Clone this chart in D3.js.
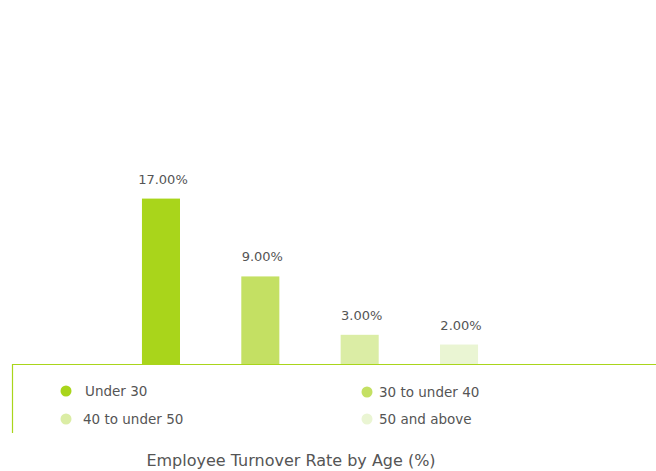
<!DOCTYPE html>
<html><head><meta charset="utf-8">
<script src="https://cdn.jsdelivr.net/npm/d3@7"></script>
<style>body{margin:0;background:#fff;}svg{display:block;font-family:"DejaVu Sans",sans-serif;}</style>
</head><body>
<svg id="c" width="656" height="471"></svg>
<script>
const categories = ["Under 30", "30 to under 40", "40 to under 50", "50 and above"];
const values = [17, 9, 3, 2];
const valueLabels = ["17.00%", "9.00%", "3.00%", "2.00%"];
const colors = ["#a9d51b", "#c4e063", "#dbeda5", "#eaf5d3"];
const title = "Employee Turnover Rate by Age (%)";

const svg = d3.select("#c");
const baseY = 364;
const x = d3.scaleBand().domain(categories).range([111.3, 508.7]).paddingInner(0.617).paddingOuter(0.3085);
const y = d3.scaleLinear().domain([0, 20]).range([baseY, baseY - 194.6]);

svg.selectAll("rect.bar").data(values).join("rect").attr("class","bar")
  .attr("x", (d,i) => x(categories[i]))
  .attr("width", x.bandwidth())
  .attr("y", d => y(d))
  .attr("height", d => baseY - y(d))
  .attr("fill", (d,i) => colors[i]);

svg.selectAll("text.val").data(values).join("text").attr("class","val")
  .attr("x", (d,i) => x(categories[i]) + x.bandwidth()/2 + 2)
  .attr("y", d => y(d) - 15)
  .attr("text-anchor","middle")
  .attr("font-size", 13)
  .attr("fill", "#555")
  .text((d,i) => valueLabels[i]);

svg.append("line").attr("x1",12).attr("x2",656).attr("y1",baseY+0.5).attr("y2",baseY+0.5)
  .attr("stroke","#a9d51b").attr("stroke-width",1.2);
svg.append("line").attr("x1",12.5).attr("x2",12.5).attr("y1",baseY).attr("y2",433)
  .attr("stroke","#a9d51b").attr("stroke-width",1.2);

const legPos = [[66,391],[367,392],[66,419],[367,419]];
const leg = svg.selectAll("g.leg").data(categories).join("g").attr("class","leg")
  .attr("transform",(d,i)=>`translate(${legPos[i][0]},${legPos[i][1]})`);
leg.append("circle").attr("r",5.5).attr("fill",(d,i)=>colors[i]);
leg.append("text").attr("x",(d,i)=> i===0 ? 19 : (i===2 ? 17 : 12)).attr("y",4.5).attr("font-size",13.5).attr("fill","#555").text(d=>d);

svg.append("text").attr("x",291).attr("y",466).attr("text-anchor","middle")
  .attr("font-size",16).attr("fill","#555").text(title);
</script>
</body></html>
